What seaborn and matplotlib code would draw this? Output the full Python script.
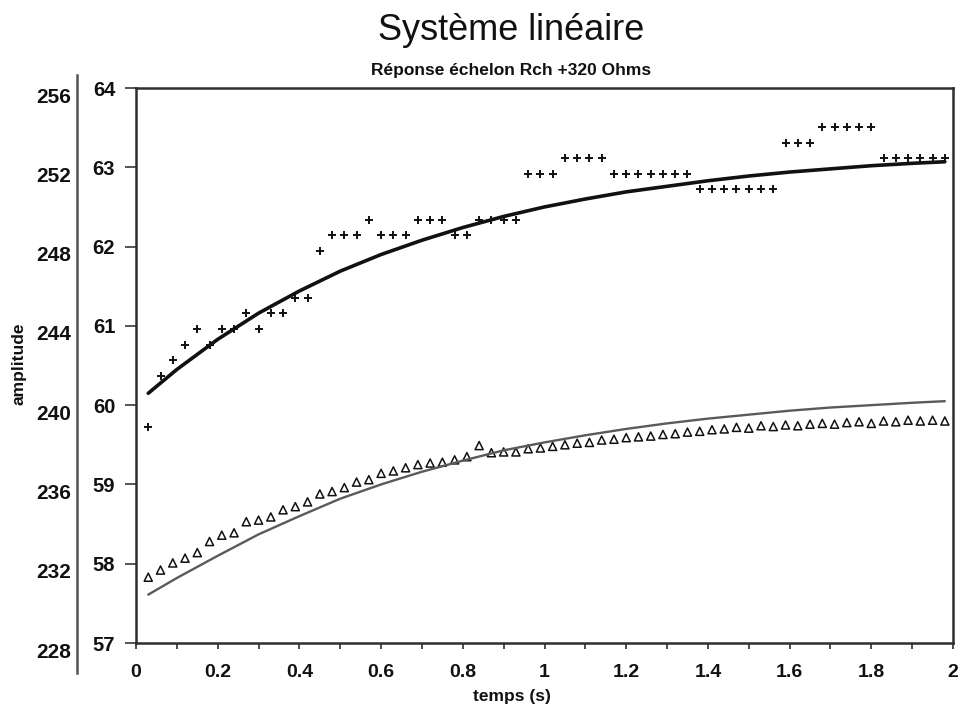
import numpy as np
import pandas as pd
import matplotlib
matplotlib.use("Agg")
import matplotlib.pyplot as plt
import matplotlib.transforms as mtransforms
import seaborn as sns
from matplotlib.ticker import FixedLocator, FixedFormatter, MultipleLocator

# ---------------- data ----------------
sample_times = np.round(np.arange(1, 67) * 0.03, 2)   # 0.03 .. 1.98 s

plus_series = [
    59.73, 60.37, 60.57, 60.76, 60.96, 60.76, 60.96, 60.96, 61.16, 60.96,
    61.16, 61.16, 61.35, 61.35, 61.94, 62.14, 62.14, 62.14, 62.33, 62.14,
    62.14, 62.14, 62.33, 62.33, 62.33, 62.14, 62.14, 62.33, 62.33, 62.33,
    62.33, 62.92, 62.92, 62.92, 63.12, 63.12, 63.12, 63.12, 62.92, 62.92,
    62.92, 62.92, 62.92, 62.92, 62.92, 62.72, 62.72, 62.72, 62.72, 62.72,
    62.72, 62.72, 63.31, 63.31, 63.31, 63.51, 63.51, 63.51, 63.51, 63.51,
    63.12, 63.12, 63.12, 63.12, 63.12, 63.12,
]

triangle_series = [
    57.83, 57.92, 58.01, 58.07, 58.14, 58.28, 58.36, 58.39, 58.53, 58.55,
    58.59, 58.68, 58.72, 58.78, 58.88, 58.91, 58.96, 59.03, 59.06, 59.14,
    59.17, 59.21, 59.25, 59.27, 59.28, 59.31, 59.35, 59.49, 59.40, 59.41,
    59.41, 59.45, 59.46, 59.48, 59.50, 59.52, 59.53, 59.56, 59.57, 59.59,
    59.60, 59.61, 59.63, 59.64, 59.66, 59.67, 59.69, 59.70, 59.72, 59.71,
    59.74, 59.73, 59.75, 59.74, 59.76, 59.77, 59.76, 59.78, 59.79, 59.77,
    59.80, 59.79, 59.81, 59.80, 59.81, 59.80,
]

fit_times = [0.03, 0.1, 0.2, 0.3, 0.4, 0.5, 0.6, 0.7, 0.8, 0.9, 1.0,
             1.1, 1.2, 1.3, 1.4, 1.5, 1.6, 1.7, 1.8, 1.9, 1.98]
fit_upper = [60.15, 60.45, 60.83, 61.16, 61.44, 61.69, 61.90, 62.08, 62.24,
             62.38, 62.50, 62.60, 62.69, 62.76, 62.83, 62.89, 62.94, 62.98,
             63.02, 63.05, 63.07]
fit_lower = [57.61, 57.82, 58.10, 58.37, 58.60, 58.82, 59.00, 59.16, 59.30,
             59.43, 59.53, 59.62, 59.70, 59.77, 59.83, 59.88, 59.93, 59.97,
             60.00, 60.03, 60.05]

x_ticks = [0, 0.2, 0.4, 0.6, 0.8, 1.0, 1.2, 1.4, 1.6, 1.8, 2.0]
x_tick_labels = ["0", "0.2", "0.4", "0.6", "0.8", "1", "1.2", "1.4", "1.6", "1.8", "2"]
inner_ticks = [57, 58, 59, 60, 61, 62, 63, 64]
outer_ticks = [228, 232, 236, 240, 244, 248, 252, 256]

title_text = "Système linéaire"
subtitle_text = "Réponse échelon Rch +320 Ohms"
x_label = "temps (s)"
y_label = "amplitude"

# ---------------- style ----------------
sns.set_style("white")
plt.rcParams["font.family"] = ["Liberation Sans", "DejaVu Sans"]

spine_color = "#2e2e2e"
ink = "#111111"

fig = plt.figure(figsize=(9.6, 7.21), dpi=100)
ax = fig.add_axes([0.14167, 0.10818, 0.85104, 0.76976])

upper_df = pd.DataFrame({"t": fit_times, "v": fit_upper})
lower_df = pd.DataFrame({"t": fit_times, "v": fit_lower})
plus_df = pd.DataFrame({"t": sample_times, "v": plus_series})
tri_df = pd.DataFrame({"t": sample_times, "v": triangle_series})

sns.lineplot(data=lower_df, x="t", y="v", ax=ax, color="#5a5a5a", linewidth=1.7)
sns.lineplot(data=upper_df, x="t", y="v", ax=ax, color=ink, linewidth=2.6)
sns.scatterplot(data=tri_df, x="t", y="v", ax=ax, marker="^", s=34,
                facecolors="none", edgecolor=ink, linewidth=1.1)
sns.scatterplot(data=plus_df, x="t", y="v", ax=ax, marker="+", s=40,
                color=ink, linewidth=1.4)

ax.set_xlim(0, 2)
ax.set_ylim(57, 64)
ax.set_xlabel("")
ax.set_ylabel("")

ax.xaxis.set_major_locator(FixedLocator(x_ticks))
ax.xaxis.set_major_formatter(FixedFormatter(x_tick_labels))
ax.xaxis.set_minor_locator(MultipleLocator(0.1))
ax.tick_params(axis="x", which="both", direction="out", length=4, width=1.2,
               color=spine_color, bottom=True)
ax.tick_params(axis="x", which="major", labelsize=14, pad=11)
ax.set_yticks(inner_ticks)
ax.tick_params(axis="y", which="major", direction="out", length=8, width=1.4,
               color="#555555", left=True, labelsize=14.5, pad=7)
for lab in ax.get_xticklabels() + ax.get_yticklabels():
    lab.set_fontweight("bold")
    lab.set_color(ink)

for side in ["left", "right", "top", "bottom"]:
    ax.spines[side].set_visible(True)
    ax.spines[side].set_color(spine_color)
    ax.spines[side].set_linewidth(1.8)

# outer amplitude scale: 4x the inner scale
sec = ax.secondary_yaxis(-0.0722, functions=(lambda v: 4 * v, lambda v: v / 4))
sec.set_yticks(outer_ticks)
sec.tick_params(axis="y", length=0, pad=4, labelsize=15)
label_drop = mtransforms.ScaledTranslation(0, -7 / 100, fig.dpi_scale_trans)
for tick in sec.yaxis.get_major_ticks():
    tick.label1.set_fontweight("bold")
    tick.label1.set_color(ink)
    tick.label1.set_transform(tick.label1.get_transform() + label_drop)
sec.spines["left"].set_color("#555555")
sec.spines["left"].set_linewidth(1.8)
sec.spines["left"].set_bounds(226.5, 256.65)

fig.text(511 / 960, 1 - 40 / 721, title_text, ha="center", va="baseline",
         fontsize=26, color=ink)
fig.text(511 / 960, 1 - 71 / 721, subtitle_text, ha="center", va="center",
         fontsize=12.5, fontweight="bold", color=ink)
fig.text(512 / 960, 1 - 697 / 721, x_label, ha="center", va="center",
         fontsize=12.5, fontweight="bold", color=ink)
fig.text(19 / 960, 1 - 364 / 721, y_label, ha="center", va="center",
         rotation=90, fontsize=12.5, fontweight="bold", color=ink)

fig.savefig("out.png", dpi=100, facecolor="white")
